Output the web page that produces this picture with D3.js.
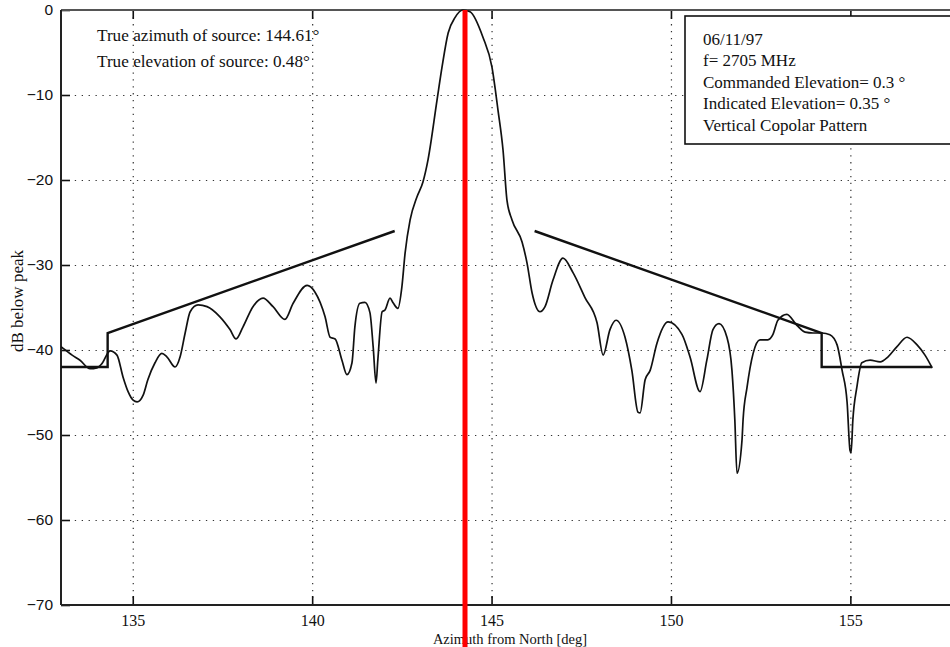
<!DOCTYPE html>
<html>
<head>
<meta charset="utf-8">
<script src="https://cdn.jsdelivr.net/npm/d3@7"></script>
<style>
  html, body { margin: 0; padding: 0; background: #fff; }
  svg { display: block; }
</style>
</head>
<body>
<svg id="chart" width="950" height="647"></svg>
<script>
// ---- data ----
const azimuth = [133.00,133.06,133.31,133.53,133.81,134.00,134.14,134.37,134.56,134.73,134.87,135.01,135.12,135.29,135.42,135.62,135.81,135.95,136.18,136.32,136.46,136.60,136.82,137.07,137.43,137.71,137.88,138.07,138.35,138.63,138.91,139.24,139.47,139.86,140.08,140.36,140.50,140.64,140.83,140.97,141.11,141.19,141.33,141.47,141.61,141.70,141.78,141.83,141.95,142.03,142.17,142.25,142.39,142.50,142.59,142.73,142.92,143.09,143.23,143.48,143.62,143.79,143.98,144.20,144.40,144.76,145.01,145.18,145.32,145.43,145.57,145.85,145.99,146.13,146.35,146.49,146.71,146.99,147.27,147.60,147.94,148.11,148.30,148.47,148.72,148.91,149.08,149.14,149.28,149.42,149.61,149.92,150.31,150.53,150.81,151.00,151.17,151.34,151.56,151.70,151.78,151.84,151.98,152.01,152.12,152.29,152.48,152.70,152.84,152.98,153.23,153.51,153.74,153.96,154.21,154.43,154.63,154.77,154.91,154.99,155.02,155.07,155.18,155.32,155.55,155.83,156.05,156.30,156.58,156.86,157.08,157.28];
const dbBelowPeak = [-39.6,-39.8,-40.6,-41.2,-42.2,-42.1,-41.6,-40.1,-40.6,-43.2,-44.9,-45.9,-46.1,-45.3,-43.5,-41.5,-40.4,-40.8,-42.0,-40.8,-38.0,-35.5,-34.7,-34.9,-36.1,-37.6,-38.7,-37.3,-34.9,-33.9,-34.9,-36.4,-34.5,-32.4,-33.2,-36.1,-38.5,-38.7,-41.2,-42.9,-41.5,-37.3,-34.5,-34.4,-35.6,-39.6,-43.9,-41.2,-35.5,-35.3,-33.9,-34.4,-35.1,-32.6,-28.6,-24.7,-22.0,-20.2,-17.6,-10.6,-6.7,-2.7,-0.9,0.0,-0.2,-3.2,-6.7,-11.8,-16.5,-22.4,-24.7,-27.3,-29.8,-33.3,-35.5,-34.9,-31.8,-29.2,-30.9,-33.8,-36.8,-40.6,-37.6,-36.5,-38.5,-42.4,-47.3,-47.4,-43.5,-42.4,-39.2,-36.7,-38.2,-40.8,-44.9,-41.2,-37.6,-36.9,-38.5,-42.4,-48.2,-54.5,-50.6,-48.2,-44.4,-40.4,-38.8,-38.8,-38.2,-36.5,-35.8,-37.1,-37.9,-38.0,-38.0,-38.2,-39.4,-42.4,-46.2,-51.8,-52.1,-48.2,-44.4,-41.5,-41.2,-41.4,-40.8,-39.6,-38.5,-39.4,-40.6,-42.1];

const leftMaskAz  = [133.0, 134.3, 134.3, 142.3];
const leftMaskDb  = [-42, -42, -38, -26];
const rightMaskAz = [146.2, 154.2, 154.2, 157.28];
const rightMaskDb = [-26, -38, -42, -42];

const markerAz = 144.26;          // red vertical line
const xTicks = [135, 140, 145, 150, 155];
const yTicks = [0, -10, -20, -30, -40, -50, -60, -70];

const annotationLines = ["True azimuth of source: 144.61°", "True elevation of source: 0.48°"];
const legendLines = ["06/11/97", "f= 2705 MHz", "Commanded Elevation= 0.3 °", "Indicated Elevation= 0.35 °", "Vertical Copolar Pattern"];
const xLabel = "Azimuth from North [deg]";
const yLabel = "dB below peak";

// ---- layout ----
const L = 61, T = 10, B = 605;
const pxPerDeg = 35.88;
const x = d3.scaleLinear().domain([133, 158]).range([L, L + 25 * pxPerDeg]);
const y = d3.scaleLinear().domain([-70, 0]).range([B, T]);

const svg = d3.select("#chart");
const serif = "'Liberation Serif', 'Times New Roman', serif";
const sans = "'Liberation Sans', Arial, sans-serif";

svg.append("defs").append("clipPath").attr("id", "plotClip")
  .append("rect").attr("x", L).attr("y", T - 2).attr("width", 950 - L).attr("height", B - T + 4);

// grid
const gridX = svg.append("g").attr("transform", `translate(0,${B})`)
  .call(d3.axisBottom(x).tickValues(xTicks).tickSize(-(B - T)).tickFormat(""));
gridX.select(".domain").remove();
gridX.selectAll("line").attr("stroke", "#333").attr("stroke-width", 1.2).attr("stroke-dasharray", "1.3,5.6");

const gridY = svg.append("g").attr("transform", `translate(${L},0)`)
  .call(d3.axisLeft(y).tickValues(yTicks.filter(v => v > -70 && v < 0)).tickSize(-(950 - L)).tickFormat(""));
gridY.select(".domain").remove();
gridY.selectAll("line").attr("stroke", "#333").attr("stroke-width", 1.2).attr("stroke-dasharray", "1.3,5.6");

// axes with inward ticks
const axB = svg.append("g").attr("transform", `translate(0,${B})`)
  .call(d3.axisBottom(x).tickValues(xTicks).tickSizeInner(-9).tickSizeOuter(0).tickPadding(9.6));
axB.select(".domain").remove();
axB.selectAll("line").attr("stroke", "#111").attr("stroke-width", 1.6);
axB.selectAll("text").attr("font-family", serif).attr("font-size", 16).attr("fill", "#111").attr("dy", "0.71em");

const axT = svg.append("g").attr("transform", `translate(0,${T})`)
  .call(d3.axisTop(x).tickValues(xTicks).tickSizeInner(-9).tickSizeOuter(0).tickFormat(""));
axT.select(".domain").remove();
axT.selectAll("line").attr("stroke", "#111").attr("stroke-width", 1.6);

const axL = svg.append("g").attr("transform", `translate(${L},0)`)
  .call(d3.axisLeft(y).tickValues(yTicks).tickSizeInner(-9).tickSizeOuter(0).tickPadding(8));
axL.select(".domain").remove();
axL.selectAll("line").attr("stroke", "#111").attr("stroke-width", 1.6);
axL.selectAll("text").attr("font-family", sans).attr("font-size", 15.5).attr("fill", "#111");

// frame
svg.append("line").attr("x1", L).attr("x2", 950).attr("y1", B).attr("y2", B).attr("stroke", "#222").attr("stroke-width", 2);
svg.append("line").attr("x1", L).attr("x2", 950).attr("y1", T).attr("y2", T).attr("stroke", "#555").attr("stroke-width", 1.8);
svg.append("line").attr("x1", L).attr("x2", L).attr("y1", T).attr("y2", B).attr("stroke", "#222").attr("stroke-width", 2);

// data lines
const plot = svg.append("g").attr("clip-path", "url(#plotClip)");
const pattern = azimuth.map((a, i) => [a, dbBelowPeak[i]]);
plot.append("path").datum(pattern)
  .attr("d", d3.line().x(d => x(d[0])).y(d => y(d[1])).curve(d3.curveMonotoneX))
  .attr("fill", "none").attr("stroke", "#111").attr("stroke-width", 1.7).attr("stroke-linejoin", "round");

const maskLine = d3.line().x(d => x(d[0])).y(d => y(d[1]));
[[leftMaskAz, leftMaskDb], [rightMaskAz, rightMaskDb]].forEach(([az, db]) => {
  plot.append("path").datum(az.map((a, i) => [a, db[i]]))
    .attr("d", maskLine).attr("fill", "none").attr("stroke", "#111").attr("stroke-width", 2.4);
});

// annotation text
svg.append("g").selectAll("text").data(annotationLines).join("text")
  .attr("x", 97).attr("y", (d, i) => 41 + i * 25.5)
  .attr("font-family", serif).attr("font-size", 17.2).attr("fill", "#111").text(d => d);

// legend box
svg.append("rect").attr("x", 685).attr("y", 16).attr("width", 275).attr("height", 128)
  .attr("fill", "#fff").attr("stroke", "#111").attr("stroke-width", 1.6);
svg.append("g").selectAll("text").data(legendLines).join("text")
  .attr("x", 703).attr("y", (d, i) => 45 + i * 21.4)
  .attr("font-family", serif).attr("font-size", 17).attr("fill", "#111").text(d => d);

// axis titles
svg.append("text").attr("transform", `translate(23,301) rotate(-90)`)
  .attr("text-anchor", "middle").attr("font-family", serif).attr("font-size", 17).attr("fill", "#111").text(yLabel);
svg.append("text").attr("x", 510).attr("y", 644)
  .attr("text-anchor", "middle").attr("font-family", serif).attr("font-size", 14.5).attr("fill", "#111").text(xLabel);

// red marker line
svg.append("line").attr("x1", x(markerAz)).attr("x2", x(markerAz)).attr("y1", T).attr("y2", 647)
  .attr("stroke", "#ff0000").attr("stroke-width", 5);
</script>
</body>
</html>
